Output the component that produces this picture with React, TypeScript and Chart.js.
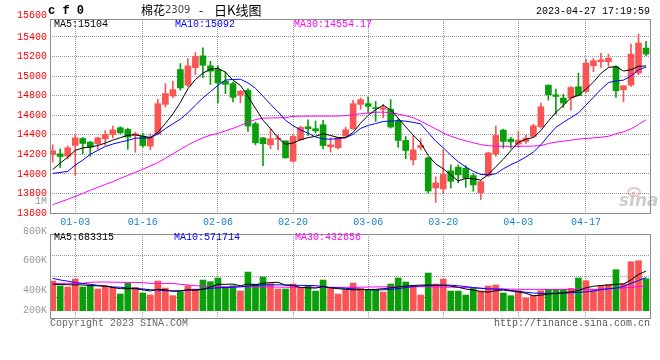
import React, { useEffect, useRef } from 'react';
import { Chart, registerables } from 'chart.js';

Chart.register(...registerables);

// ---------- data ----------
const dates = [
  '12-28', '12-29', '12-30', '01-03', '01-04', '01-05', '01-06', '01-09', '01-10', '01-11',
  '01-12', '01-13', '01-16', '01-17', '01-18', '01-19', '01-20', '01-30', '01-31', '02-01',
  '02-02', '02-03', '02-06', '02-07', '02-08', '02-09', '02-10', '02-13', '02-14', '02-15',
  '02-16', '02-17', '02-20', '02-21', '02-22', '02-23', '02-24', '02-27', '02-28', '03-01',
  '03-02', '03-03', '03-06', '03-07', '03-08', '03-09', '03-10', '03-13', '03-14', '03-15',
  '03-16', '03-17', '03-20', '03-21', '03-22', '03-23', '03-24', '03-27', '03-28', '03-29',
  '03-30', '03-31', '04-03', '04-04', '04-06', '04-07', '04-10', '04-11', '04-12', '04-13',
  '04-14', '04-17', '04-18', '04-19', '04-20', '04-21', '04-24', '04-25', '04-26', '04-27',
];
const tickDates = ['01-03', '01-16', '02-06', '02-20', '03-06', '03-20', '04-03', '04-17'];
const priceTicks = [13600, 13800, 14000, 14200, 14400, 14600, 14800, 15000, 15200, 15400];
const priceTopLabel = 15600;
const volTickLabels = ['800K', '600K', '400K', '200K'];

const open = [
  14198, 14205, 14181, 14291, 14362, 14325, 14308, 14359, 14403, 14472,
  14455, 14393, 14386, 14284, 14410, 14711, 14797, 15067, 14906, 15087,
  15207, 15105, 15067, 14947, 14923, 14804, 14855, 14513, 14369, 14297,
  14355, 14338, 14130, 14349, 14482, 14462, 14503, 14277, 14267, 14386,
  14462, 14711, 14718, 14677, 14660, 14660, 14537, 14342, 14143, 14270,
  14164, 13856, 13846, 14031, 14068, 14058, 13983, 13805, 13983, 14205,
  14448, 14356, 14305, 14332, 14383, 14482, 14908, 14809, 14775, 14775,
  14891, 14843, 15106, 15147, 15147, 15096, 14860, 14908, 15031, 15287,
];
const close = [
  14236, 14178, 14267, 14369, 14311, 14273, 14369, 14403, 14451, 14420,
  14376, 14410, 14290, 14373, 14718, 14821, 14862, 14879, 15105, 15200,
  15111, 15050, 14930, 14916, 14783, 14845, 14489, 14318, 14308, 14359,
  14366, 14164, 14383, 14475, 14462, 14441, 14290, 14297, 14369, 14451,
  14718, 14759, 14691, 14667, 14677, 14479, 14342, 14239, 14246, 14290,
  13825, 13908, 13993, 13925, 13990, 13955, 13887, 13921, 14215, 14393,
  14332, 14328, 14345, 14366, 14492, 14686, 14809, 14792, 14724, 14884,
  14799, 15133, 15157, 15167, 15184, 14850, 14901, 15225, 15338, 15225,
];
const high = [
  14297, 14256, 14287, 14400, 14373, 14332, 14376, 14444, 14489, 14482,
  14468, 14427, 14417, 14410, 14763, 14923, 14947, 15128, 15180, 15241,
  15289, 15152, 15105, 15043, 14940, 14855, 14872, 14530, 14369, 14462,
  14400, 14338, 14400, 14489, 14554, 14540, 14547, 14369, 14373, 14479,
  14752, 14776, 14787, 14742, 14711, 14759, 14564, 14383, 14393, 14359,
  14171, 13969, 14246, 14092, 14092, 14085, 14003, 13931, 14222, 14489,
  14458, 14373, 14434, 14397, 14509, 14724, 14908, 14867, 14816, 14894,
  15031, 15174, 15181, 15232, 15225, 15106, 14901, 15327, 15430, 15355,
];
const low = [
  14120, 14065, 14154, 13983, 14205, 14181, 14250, 14291, 14369, 14410,
  14250, 14222, 14273, 14246, 14400, 14684, 14780, 14855, 14889, 15016,
  14985, 14913, 14725, 14821, 14735, 14728, 14434, 14297, 14085, 14256,
  14246, 14160, 14120, 14342, 14393, 14417, 14256, 14222, 14256, 14369,
  14455, 14660, 14626, 14537, 14574, 14468, 14273, 14154, 14092, 14246,
  13805, 13709, 13802, 13856, 13908, 13863, 13822, 13737, 13973, 14181,
  14264, 14264, 14277, 14311, 14373, 14468, 14755, 14611, 14680, 14652,
  14799, 14833, 15045, 15089, 15100, 14782, 14737, 14894, 15014, 15208,
];
const ma5 = [
  14045, 14110, 14170, 14240, 14265, 14275, 14290, 14315, 14345, 14370,
  14395, 14400, 14385, 14372, 14425, 14515, 14613, 14731, 14870, 14965,
  15031, 15069, 15079, 15041, 14958, 14905, 14793, 14670, 14549, 14464,
  14368, 14303, 14316, 14349, 14370, 14385, 14410, 14393, 14372, 14370,
  14425, 14519, 14598, 14657, 14702, 14655, 14571, 14481, 14397, 14319,
  14188, 14102, 14052, 13988, 13928, 13954, 13950, 13936, 13994, 14074,
  14150, 14238, 14323, 14353, 14373, 14443, 14540, 14629, 14701, 14779,
  14802, 14866, 14939, 15028, 15088, 15098, 15052, 15065, 15100, 15104,
];
const ma10 = [
  14005, 14015, 14025, 14090, 14140, 14200, 14240, 14280, 14305, 14325,
  14342, 14365, 14367, 14368, 14408, 14463, 14512, 14560, 14625, 14703,
  14777, 14841, 14905, 14959, 14966, 14968, 14931, 14875, 14795, 14711,
  14636, 14548, 14493, 14449, 14417, 14377, 14357, 14355, 14361, 14370,
  14405, 14465, 14495, 14515, 14536, 14540, 14545, 14539, 14527, 14511,
  14422, 14336, 14267, 14192, 14124, 14071, 14026, 13994, 13991, 14001,
  14052, 14094, 14129, 14173, 14223, 14297, 14389, 14476, 14527, 14576,
  14623, 14703, 14784, 14864, 14934, 14950, 14959, 15002, 15064, 15092,
];
const ma30 = [
  13685, 13712, 13740, 13770, 13800, 13832, 13862, 13892, 13920, 13953,
  13985, 14015, 14048, 14082, 14115, 14160, 14205, 14250, 14295, 14335,
  14370, 14395, 14415, 14440, 14465, 14495, 14530, 14555, 14570, 14572,
  14573, 14575, 14588, 14590, 14590, 14591, 14591, 14591, 14592, 14595,
  14605, 14615, 14622, 14630, 14632, 14625, 14612, 14595, 14575, 14540,
  14500, 14460, 14420, 14385, 14360, 14338, 14318, 14300, 14288, 14283,
  14282, 14282, 14282, 14283, 14284, 14290, 14310, 14325, 14335, 14345,
  14355, 14362, 14368, 14375, 14385, 14410, 14430, 14460, 14505, 14554.17,
];
// volume in thousands
const volume = [
  512, 426, 408, 546, 408, 437, 374, 426, 403, 288,
  477, 403, 305, 270, 512, 391, 259, 328, 431, 374,
  529, 500, 564, 403, 431, 339, 667, 460, 581, 466,
  374, 374, 460, 403, 431, 339, 529, 391, 288, 357,
  477, 385, 368, 368, 322, 460, 564, 495, 431, 270,
  650, 460, 546, 339, 339, 270, 385, 340, 426, 443,
  305, 259, 345, 219, 265, 345, 368, 368, 368, 385,
  564, 518, 365, 423, 452, 707, 465, 845, 863, 552,
];
const volMa5 = [
  455, 452, 448, 445, 445, 435, 428, 425, 400, 380,
  380, 380, 360, 340, 370, 360, 335, 340, 365, 350,
  370, 410, 455, 455, 460, 430, 460, 445, 475, 485,
  490, 440, 435, 400, 395, 390, 415, 395, 380, 368,
  360, 362, 365, 368, 380, 395, 410, 425, 435, 442,
  443, 440, 437, 425, 403, 375, 355, 330, 320, 345,
  357, 340, 325, 300, 258, 268, 285, 298, 310, 325,
  350, 395, 422, 435, 443, 455, 462, 530, 625, 683.315,
];
const volMa10 = [
  558, 530, 510, 485, 470, 455, 437, 425, 410, 405,
  390, 385, 375, 362, 355, 345, 342, 345, 352, 362,
  372, 385, 395, 400, 405, 412, 425, 435, 445, 447,
  446, 443, 440, 437, 435, 432, 415, 400, 395, 385,
  378, 368, 362, 357, 360, 368, 380, 400, 415, 426,
  430, 437, 443, 440, 430, 415, 400, 385, 375, 372,
  368, 350, 333, 318, 305, 300, 300, 299, 302, 310,
  316, 325, 340, 362, 378, 390, 420, 470, 520, 571.714,
];
const volMa30 = [
  470, 470, 471, 471, 472, 490, 494, 494, 492, 489,
  489, 488, 485, 472, 471, 471, 470, 455, 443, 432,
  425, 418, 414, 414, 414, 414, 414, 414, 413, 410,
  407, 405, 403, 403, 403, 403, 403, 403, 403, 403,
  403, 405, 408, 410, 412, 414, 414, 414, 414, 414,
  414, 410, 407, 405, 403, 400, 395, 390, 385, 380,
  376, 372, 370, 368, 368, 368, 368, 368, 368, 368,
  368, 368, 368, 372, 378, 385, 393, 402, 415, 432.656,
];

// ---------- styles ----------
const UP = '#fa5555';
const DOWN = '#0a9e0a';
const MONO = "'Liberation Mono', 'DejaVu Sans Mono', monospace";
const CJK = "'Noto Sans CJK SC', sans-serif";
const GRID = '#999999';
const FRAME = '#8c8c8c';

export default function App() {
  const topRef = useRef<HTMLCanvasElement>(null);
  const botRef = useRef<HTMLCanvasElement>(null);

  useEffect(() => {
    const n = dates.length;
    const tickIdx = tickDates.map((d) => dates.indexOf(d));
    const colors = dates.map((_, i) => (close[i] >= open[i] ? UP : DOWN));
    const pts = (arr: number[]) => arr.map((v, i) => ({ x: i, y: v }));

    const xScale = (showLabels: boolean): any => ({
      type: 'linear',
      min: -0.36,
      max: n - 1 + 0.53,
      offset: false,
      afterBuildTicks: (s: any) => {
        s.ticks = tickIdx.map((v) => ({ value: v }));
      },
      ticks: {
        display: showLabels,
        color: '#1a7fd0',
        font: { family: MONO, size: 10 },
        padding: 3,
        maxRotation: 0,
        minRotation: 0,
        autoSkip: false,
        callback: (v: number) => dates[v] ?? '',
      },
      grid: { color: GRID, drawTicks: false, offset: false, lineWidth: 1 },
      border: { display: false, dash: [1, 1] },
      afterFit: (s: any) => {
        s.height = showLabels ? 17 : 0;
      },
    });

    const lineDs = (label: string, arr: number[], color: string) => ({
      type: 'line',
      label,
      data: pts(arr),
      borderColor: color,
      borderWidth: 1,
      pointRadius: 0,
      tension: 0,
      fill: false,
      order: 0,
    });

    const text = (ctx: any, s: string, x: number, y: number, color: string, font: string, align = 'left') => {
      ctx.fillStyle = color;
      ctx.font = font;
      ctx.textAlign = align;
      ctx.textBaseline = 'middle';
      ctx.fillText(s, x, y);
    };

    const topPlugin = {
      id: 'topDecor',
      afterDraw(chart: any) {
        const { ctx, chartArea: ca, scales } = chart;
        ctx.save();
        ctx.strokeStyle = FRAME;
        ctx.lineWidth = 1;
        ctx.strokeRect(ca.left + 0.5, ca.top + 0.5, ca.right - ca.left, ca.bottom - ca.top);
        const f10 = `10px ${MONO}`;
        text(ctx, 'c f 0', 48, 11, '#000', `bold 12px ${MONO}`);
        text(ctx, '棉花', 141, 10, '#000', `12px ${CJK}`);
        text(ctx, '2309', 165, 10.5, '#444', `10px 'DejaVu Sans', sans-serif`);
        text(ctx, '-', 199, 10, '#000', `12px ${CJK}`);
        text(ctx, '日K线图', 214, 10, '#000', `13px ${CJK}`);
        text(ctx, '2023-04-27 17:19:59', 650, 11, '#000', f10, 'right');
        text(ctx, 'MA5:' + ma5[n - 1], 54, 24, '#000', f10);
        text(ctx, 'MA10:' + ma10[n - 1], 175, 24, '#0000ff', f10);
        text(ctx, 'MA30:' + ma30[n - 1].toFixed(2), 294, 24, '#ff00ff', f10);
        text(ctx, String(priceTopLabel), 47, scales.y.getPixelForValue(priceTopLabel) - 2, '#ff0000', f10, 'right');
        text(ctx, '1M', 47, ca.bottom - 12, '#999', f10, 'right');
        // watermark
        ctx.globalAlpha = 0.45;
        ctx.strokeStyle = '#e06060';
        ctx.lineWidth = 1.5;
        ctx.beginPath();
        ctx.ellipse(634, 192, 6, 4, 0, 0, Math.PI * 2);
        ctx.stroke();
        text(ctx, 'sina', 619, 202, '#909090', `italic bold 17px 'DejaVu Sans', sans-serif`);
        ctx.restore();
      },
    };

    const botPlugin = {
      id: 'botDecor',
      beforeDatasetsDraw(chart: any) {
        const { ctx, chartArea: ca } = chart;
        ctx.save();
        ctx.strokeStyle = GRID;
        ctx.lineWidth = 1;
        ctx.setLineDash([1, 1]);
        for (let k = 1; k < 4; k++) {
          const y = Math.round(ca.top + (k * (ca.bottom - ca.top)) / 4) + 0.5;
          ctx.beginPath();
          ctx.moveTo(ca.left, y);
          ctx.lineTo(ca.right, y);
          ctx.stroke();
        }
        ctx.restore();
      },
      afterDraw(chart: any) {
        const { ctx, chartArea: ca } = chart;
        ctx.save();
        ctx.strokeStyle = FRAME;
        ctx.lineWidth = 1;
        ctx.strokeRect(ca.left + 0.5, ca.top + 0.5, ca.right - ca.left, ca.bottom - ca.top);
        const f10 = `10px ${MONO}`;
        const offs = [-3, 26.7, 56.5, 76.5];
        volTickLabels.forEach((l, k) => text(ctx, l, 47, ca.top + offs[k], '#999', f10, 'right'));
        text(ctx, 'MA5:' + Math.round(volMa5[n - 1] * 1000), 54, ca.top + 3.5, '#000', f10);
        text(ctx, 'MA10:' + Math.round(volMa10[n - 1] * 1000), 174, ca.top + 3.5, '#0000ff', f10);
        text(ctx, 'MA30:' + Math.round(volMa30[n - 1] * 1000), 295, ca.top + 3.5, '#ff00ff', f10);
        text(ctx, 'Copyright 2023 SINA.COM', 50, ca.bottom + 5.5, '#666', f10);
        text(ctx, 'http://finance.sina.com.cn', 650, ca.bottom + 5.5, '#555', f10, 'right');
        ctx.restore();
      },
    };

    const top = new Chart(topRef.current as HTMLCanvasElement, {
      type: 'bar',
      data: {
        datasets: [
          lineDs('MA5', ma5, '#000000'),
          lineDs('MA10', ma10, '#0000ff'),
          lineDs('MA30', ma30, '#ff00ff'),
          {
            type: 'bar',
            label: 'body',
            data: dates.map((_, i) => ({ x: i, y: [open[i], close[i]] })),
            backgroundColor: colors,
            barThickness: 6,
            grouped: false,
            minBarLength: 1,
            order: 1,
          },
          {
            type: 'bar',
            label: 'wick',
            data: dates.map((_, i) => ({ x: i, y: [low[i], high[i]] })),
            backgroundColor: colors,
            barThickness: 1,
            grouped: false,
            order: 2,
          },
        ] as any,
      },
      options: {
        responsive: false,
        animation: false,
        events: [],
        layout: { padding: { top: 19, right: 10, bottom: 0, left: 0 } },
        plugins: { legend: { display: false }, tooltip: { enabled: false } },
        scales: {
          x: xScale(true),
          y: {
            type: 'linear',
            min: 13600,
            max: 15584,
            afterBuildTicks: (s: any) => {
              s.ticks = priceTicks.map((v) => ({ value: v }));
            },
            ticks: {
              color: '#ff0000',
              font: { family: MONO, size: 10 },
              padding: 3,
              callback: (v: number) => String(v),
            },
            grid: { color: GRID, drawTicks: false, lineWidth: 1 },
            border: { display: false, dash: [1, 1] },
            afterFit: (s: any) => {
              s.width = 50;
            },
          },
        },
      } as any,
      plugins: [topPlugin],
    });

    const bot = new Chart(botRef.current as HTMLCanvasElement, {
      type: 'bar',
      data: {
        datasets: [
          lineDs('VMA5', volMa5, '#000000'),
          lineDs('VMA10', volMa10, '#0000ff'),
          lineDs('VMA30', volMa30, '#ff00ff'),
          {
            type: 'bar',
            label: 'volume',
            data: dates.map((_, i) => ({ x: i, y: volume[i] })),
            backgroundColor: colors,
            barThickness: 6,
            grouped: false,
            order: 1,
          },
        ] as any,
      },
      options: {
        responsive: false,
        animation: false,
        events: [],
        layout: { padding: { top: 8, right: 10, bottom: 42, left: 50 } },
        plugins: { legend: { display: false }, tooltip: { enabled: false } },
        scales: {
          x: xScale(false),
          y: { type: 'linear', display: false, min: -126, max: 1323 },
        },
      } as any,
      plugins: [botPlugin],
    });

    return () => {
      top.destroy();
      bot.destroy();
    };
  }, []);

  return (
    <div style={{ position: 'fixed', left: 0, top: 0, width: 660, height: 360, background: '#fff' }}>
      <canvas ref={topRef} width={660} height={230} style={{ position: 'absolute', left: 0, top: 0, width: 660, height: 230 }} />
      <canvas ref={botRef} width={660} height={134} style={{ position: 'absolute', left: 0, top: 226, width: 660, height: 134 }} />
    </div>
  );
}
